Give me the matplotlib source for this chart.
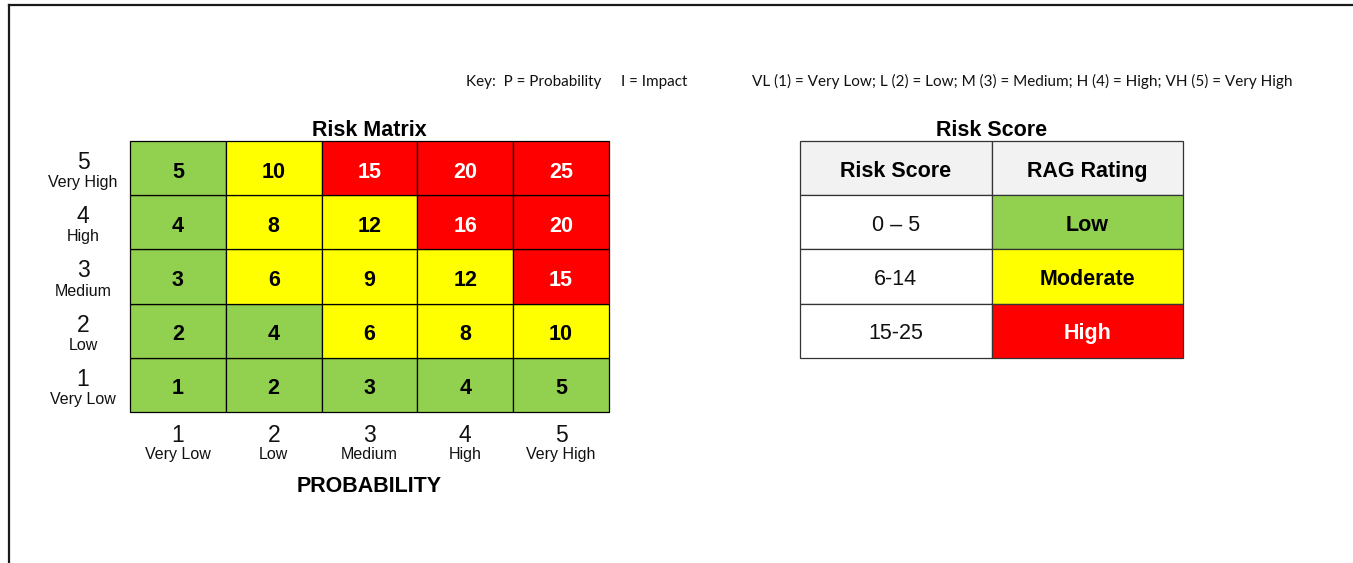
import matplotlib
matplotlib.use("Agg")
import matplotlib.pyplot as plt
from matplotlib.patches import Rectangle
from matplotlib.lines import Line2D

# axis levels (same for probability and impact)
level_nums = [1, 2, 3, 4, 5]
level_names = ["Very Low", "Low", "Medium", "High", "Very High"]

# risk scores, rows = impact 1..5 (bottom to top), cols = probability 1..5
scores = [
    [1, 2, 3, 4, 5],
    [2, 4, 6, 8, 10],
    [3, 6, 9, 12, 15],
    [4, 8, 12, 16, 20],
    [5, 10, 15, 20, 25],
]

# RAG bands
band_ranges = ["0 \u2013 5", "6-14", "15-25"]
band_max = [5, 14, 25]
band_names = ["Low", "Moderate", "High"]

band_colors = ["#92D050", "#FFFF00", "#FF0000"]
band_text = ["black", "black", "white"]

key_left = "Key:  P = Probability"
key_mid = "I = Impact"
key_right = "VL (1) = Very Low; L (2) = Low; M (3) = Medium; H (4) = High; VH (5) = Very High"

ARIAL = "Liberation Sans"
CALIBRI = "Lato"

W, H = 1353, 563
fig = plt.figure(figsize=(W / 100, H / 100), dpi=100)
fig.patch.set_facecolor("white")


def band_of(v):
    for i, m in enumerate(band_max):
        if v <= m:
            return i
    return len(band_max) - 1


# ---- risk matrix ----
ax = fig.add_axes([130 / W, 1 - 412 / H, 479 / W, 271 / H])
ax.set_xlim(0, 5)
ax.set_ylim(0, 5)
ax.axis("off")

for r, row in enumerate(scores):
    for c, v in enumerate(row):
        b = band_of(v)
        ax.add_patch(Rectangle((c, r), 1, 1, facecolor=band_colors[b],
                               edgecolor="black", lw=0.9, clip_on=False))
        ax.annotate(str(v), (c + 0.5, r + 0.5), xytext=(0, -6.8),
                    textcoords="offset points", ha="center", va="baseline",
                    fontsize=15.5, fontweight="bold", color=band_text[b],
                    family=ARIAL)

# impact labels (left)
for i, (n, name) in enumerate(zip(level_nums, level_names)):
    ax.annotate(str(n), (-0.49, i + 0.5), xytext=(0, -0.7),
                textcoords="offset points", ha="center", va="baseline",
                fontsize=16.5, color="#111111", family=ARIAL, annotation_clip=False)
    ax.annotate(name, (-0.49, i + 0.5), xytext=(0, -13.7),
                textcoords="offset points", ha="center", va="baseline",
                fontsize=11.5, color="#111111", family=ARIAL, annotation_clip=False)

# probability labels (bottom)
for i, (n, name) in enumerate(zip(level_nums, level_names)):
    ax.annotate(str(n), (i + 0.5, 0), xytext=(0, -21.6),
                textcoords="offset points", ha="center", va="baseline",
                fontsize=16.5, color="#111111", family=ARIAL, annotation_clip=False)
    ax.annotate(name, (i + 0.5, 0), xytext=(0, -33.8),
                textcoords="offset points", ha="center", va="baseline",
                fontsize=11.5, color="#111111", family=ARIAL, annotation_clip=False)

ax.annotate("PROBABILITY", (2.5, 0), xytext=(0, -57.6),
            textcoords="offset points", ha="center", va="baseline",
            fontsize=15.5, fontweight="bold", color="black", family=ARIAL,
            annotation_clip=False)
ax.annotate("Risk Matrix", (2.5, 5), xytext=(0, 3.6),
            textcoords="offset points", ha="center", va="baseline",
            fontsize=15.5, fontweight="bold", color="black", family=ARIAL,
            annotation_clip=False)

# ---- risk score table ----
tx = fig.add_axes([800 / W, 1 - 358 / H, 383 / W, 217 / H])
tx.set_xlim(0, 2)
tx.set_ylim(len(band_names) + 1, 0)
tx.axis("off")

header = ["Risk Score", "RAG Rating"]
for c, h in enumerate(header):
    tx.add_patch(Rectangle((c, 0), 1, 1, facecolor="#F2F2F2",
                           edgecolor="#333333", lw=0.9, clip_on=False))
    tx.annotate(h, (c + 0.5, 0.5), xytext=(0, -6.2), textcoords="offset points",
                ha="center", va="baseline", fontsize=15.5, fontweight="bold",
                color="black", family=ARIAL)

for r, (rng, name) in enumerate(zip(band_ranges, band_names)):
    y = r + 1
    tx.add_patch(Rectangle((0, y), 1, 1, facecolor="white",
                           edgecolor="#333333", lw=0.9, clip_on=False))
    tx.add_patch(Rectangle((1, y), 1, 1, facecolor=band_colors[r],
                           edgecolor="#333333", lw=0.9, clip_on=False))
    tx.annotate(rng, (0.5, y + 0.5), xytext=(0, -6.2), textcoords="offset points",
                ha="center", va="baseline", fontsize=15.5, color="#111111",
                family=ARIAL)
    tx.annotate(name, (1.5, y + 0.5), xytext=(0, -6.2), textcoords="offset points",
                ha="center", va="baseline", fontsize=15.5, fontweight="bold",
                color=band_text[r], family=ARIAL)

tx.annotate("Risk Score", (1, 0), xytext=(0, 3.6), textcoords="offset points",
            ha="center", va="baseline", fontsize=15.5, fontweight="bold",
            color="black", family=ARIAL, annotation_clip=False)

# ---- key line ----
ky = 1 - 86 / H
fig.text(466 / W, ky, key_left, ha="left", va="baseline", fontsize=11,
         family=CALIBRI, color="#111111")
fig.text(621 / W, ky, key_mid, ha="left", va="baseline", fontsize=11,
         family=CALIBRI, color="#111111")
fig.text(752 / W, ky, key_right, ha="left", va="baseline", fontsize=11,
         family=CALIBRI, color="#111111")

# ---- page frame (left and top edges) ----
fx = 9 / W
fy = 1 - 4.5 / H
fig.add_artist(Line2D([fx, fx], [0, fy], transform=fig.transFigure,
                      color="#1a1a1a", lw=1.6))
fig.add_artist(Line2D([fx, 1], [fy, fy], transform=fig.transFigure,
                      color="#1a1a1a", lw=1.6))

fig.savefig("out.png", dpi=100, facecolor="white")
